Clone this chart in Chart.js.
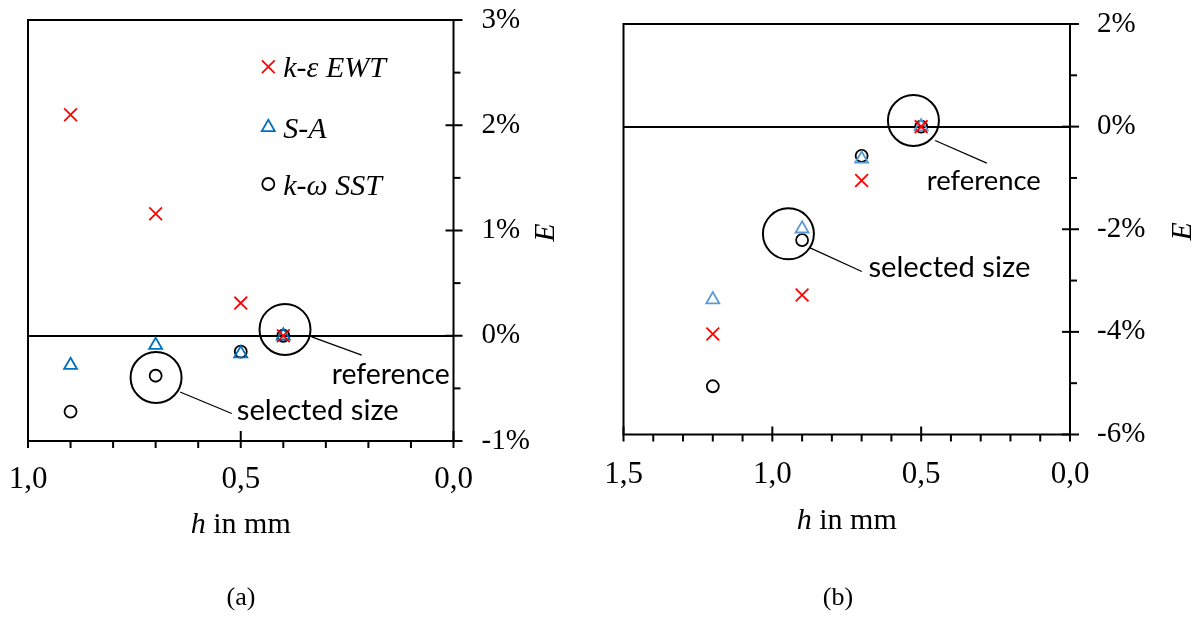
<!DOCTYPE html>
<html>
<head>
<meta charset="utf-8">
<script src="https://cdn.jsdelivr.net/npm/chart.js@4.4.0/dist/chart.umd.min.js"></script>
<style>
  html, body { margin: 0; padding: 0; background: #fff; }
  #wrap { position: relative; width: 1199px; height: 633px; overflow: hidden; }
  canvas { position: absolute; top: 0; }
</style>
</head>
<body>
<div id="wrap">
  <canvas id="chartA" width="600" height="633" style="left:0"></canvas>
  <canvas id="chartB" width="599" height="633" style="left:600px"></canvas>
</div>
<script>
// dados (a)
const hA = [0.9, 0.7, 0.5, 0.4];
const kepsA = [2.10, 1.16, 0.31, 0];
const saA = [-0.28, -0.09, -0.17, 0];
const sstA = [-0.72, -0.38, -0.15, 0];
const yTicksA = [-1, 0, 1, 2, 3];
const xTicksA = [0, 0.5, 1.0];

// dados (b)
const hB = [1.2, 0.9, 0.7, 0.5];
const kepsB = [-4.04, -3.28, -1.05, 0];
const saB = [-3.37, -1.99, -0.63, 0];
const sstB = [-5.06, -2.21, -0.57, 0];
const yTicksB = [-6, -4, -2, 0, 2];
const xTicksB = [0, 0.5, 1.0, 1.5];

const seriesNames = ['k-ε EWT', 'S-A', 'k-ω SST'];

const SERIF = '"Liberation Serif", "Times New Roman", serif';
const SANS = 'Lato, "Open Sans", sans-serif';

function pts(xs, ys) {
  return xs.map((x, i) => ({ x: x, y: ys[i] }));
}

function marker(ctx, style, x, y, r, color) {
  ctx.save();
  ctx.strokeStyle = color;
  ctx.lineWidth = 1.8;
  ctx.beginPath();
  if (style === 'crossRot') {
    const d = r * Math.SQRT1_2;
    ctx.moveTo(x - d, y - d); ctx.lineTo(x + d, y + d);
    ctx.moveTo(x + d, y - d); ctx.lineTo(x - d, y + d);
  } else if (style === 'triangle') {
    for (let k = 0; k < 3; k++) {
      const a = k * 2 * Math.PI / 3;
      const px = x + Math.sin(a) * r, py = y - Math.cos(a) * r;
      if (k === 0) ctx.moveTo(px, py); else ctx.lineTo(px, py);
    }
    ctx.closePath();
  } else {
    ctx.arc(x, y, r, 0, Math.PI * 2);
  }
  ctx.stroke();
  ctx.restore();
}

// texto ajustado a uma largura
function fitFont(ctx, text, family, style, target) {
  ctx.font = style + ' 30px ' + family;
  const w = ctx.measureText(text).width;
  return style + ' ' + (30 * target / w).toFixed(2) + 'px ' + family;
}

// eixos, ticks, moldura, anotações
const decor = {
  id: 'decor',
  afterDraw(chart, args, o) {
    const { ctx, chartArea: a, scales: { x, y } } = chart;
    ctx.save();
    ctx.strokeStyle = '#000';
    ctx.lineWidth = 2;
    ctx.strokeRect(a.left, a.top, a.right - a.left, a.bottom - a.top);

    // ticks do eixo x
    const nx = Math.round((x.max - x.min) / 0.1);
    for (let i = 0; i <= nx; i++) {
      const v = x.min + i * 0.1;
      const px = x.getPixelForValue(v);
      const major = i % 5 === 0;
      ctx.beginPath();
      ctx.moveTo(px, a.bottom - (major ? o.xIn : 0));
      ctx.lineTo(px, a.bottom + 7);
      ctx.stroke();
    }
    // ticks do eixo y
    const ny = Math.round((y.max - y.min) / o.yMinor);
    for (let i = 0; i <= ny; i++) {
      const v = y.min + i * o.yMinor;
      const py = y.getPixelForValue(v);
      const major = i % 2 === 0;
      ctx.beginPath();
      ctx.moveTo(a.right - (major ? 8 : 0), py);
      ctx.lineTo(a.right + (major ? 9 : 7), py);
      ctx.stroke();
    }

    // anotações
    o.notes.forEach(n => {
      const cx = x.getPixelForValue(n.x), cy = y.getPixelForValue(n.y);
      ctx.lineWidth = 2;
      ctx.beginPath();
      ctx.arc(cx, cy, 25.5, 0, Math.PI * 2);
      ctx.stroke();
      ctx.lineWidth = 1.2;
      ctx.beginPath();
      ctx.moveTo(cx + n.from[0], cy + n.from[1]);
      ctx.lineTo(cx + n.to[0], cy + n.to[1]);
      ctx.stroke();
      ctx.fillStyle = '#000';
      ctx.font = fitFont(ctx, n.text, SANS, 'normal', n.w);
      ctx.textAlign = 'left';
      ctx.textBaseline = 'alphabetic';
      ctx.fillText(n.text, cx + n.at[0], cy + n.at[1]);
    });

    // título do eixo x: h in mm
    ctx.fillStyle = '#000';
    ctx.textBaseline = 'alphabetic';
    ctx.textAlign = 'left';
    ctx.font = 'italic 30px ' + SERIF;
    const wh = ctx.measureText('h').width;
    ctx.font = '30px ' + SERIF;
    const wr = ctx.measureText(' in mm').width;
    let tx = (a.left + a.right) / 2 - (wh + wr) / 2;
    const ty = a.bottom + o.titleDy;
    ctx.font = 'italic 30px ' + SERIF;
    ctx.fillText('h', tx, ty);
    ctx.font = '30px ' + SERIF;
    ctx.fillText(' in mm', tx + wh, ty);

    // título do eixo y: E
    ctx.save();
    ctx.translate(o.eX, (a.top + a.bottom) / 2 + 2);
    ctx.rotate(-Math.PI / 2);
    ctx.textAlign = 'center';
    ctx.textBaseline = 'middle';
    ctx.font = 'italic 30px ' + SERIF;
    ctx.fillText('E', 0, 0);
    ctx.restore();

    // (a) / (b)
    ctx.textAlign = 'center';
    ctx.textBaseline = 'middle';
    ctx.font = '26px ' + SERIF;
    ctx.fillText(o.caption, o.capX, 598);

    // legenda
    if (o.legend) {
      const ys = [66.7, 127.3, 184];
      const styles = ['crossRot', 'triangle', 'circle'];
      const cols = ['#FF0000', '#0070C0', '#000000'];
      const rr = [9, 7.5, 6];
      ctx.textAlign = 'left';
      ctx.textBaseline = 'alphabetic';
      ctx.font = 'italic 30px ' + SERIF;
      seriesNames.forEach((s, i) => {
        marker(ctx, styles[i], 268.3, ys[i], rr[i], cols[i]);
        ctx.fillText(s, 283.3, ys[i] + 10.5);
      });
    }
    ctx.restore();
  }
};

function build(id, d) {
  const chart = new Chart(document.getElementById(id), {
    type: 'scatter',
    data: {
      datasets: [
        { label: seriesNames[0], data: pts(d.h, d.keps), pointStyle: 'crossRot', pointRadius: 9,
          borderColor: '#FF0000', backgroundColor: 'rgba(0,0,0,0)', borderWidth: 1.8 },
        { label: seriesNames[1], data: pts(d.h, d.sa), pointStyle: 'triangle', pointRadius: 7.5,
          borderColor: d.saColor, backgroundColor: 'rgba(0,0,0,0)', borderWidth: 1.8 },
        { label: seriesNames[2], data: pts(d.h, d.sst), pointStyle: 'circle', pointRadius: 6,
          borderColor: '#000000', backgroundColor: 'rgba(0,0,0,0)', borderWidth: 1.8 }
      ]
    },
    options: {
      responsive: false,
      animation: false,
      devicePixelRatio: 1,
      layout: { padding: { left: d.area.left, top: d.area.top, right: 0, bottom: 0 } },
      plugins: {
        legend: { display: false },
        tooltip: { enabled: false },
        decor: d.decor
      },
      scales: {
        x: {
          type: 'linear',
          reverse: true,
          min: 0,
          max: d.xMax,
          afterBuildTicks: s => { s.ticks = d.xTicks.map(v => ({ value: v })); },
          afterFit: s => { s.height = d.xH; },
          grid: { display: false, drawTicks: false },
          border: { display: false },
          ticks: {
            color: '#000',
            padding: d.xPad,
            maxRotation: 0,
            font: { family: SERIF, size: 31 },
            callback: v => Number(v).toFixed(1).replace('.', ',')
          }
        },
        y: {
          type: 'linear',
          position: 'right',
          min: d.yTicks[0],
          max: d.yTicks[d.yTicks.length - 1],
          afterBuildTicks: s => { s.ticks = d.yTicks.map(v => ({ value: v })); },
          afterFit: s => { s.width = d.yW; },
          grid: {
            drawTicks: true,
            tickLength: d.yPad,
            tickColor: 'rgba(0,0,0,0)',
            lineWidth: 2,
            color: c => (c.tick && c.tick.value === 0 ? '#000' : 'rgba(0,0,0,0)')
          },
          border: { display: false },
          ticks: {
            color: '#000',
            padding: 0,
            font: { family: SERIF, size: 29 },
            callback: v => v + '%'
          }
        }
      }
    },
    plugins: [decor]
  });

  // acerta a área do gráfico na posição pedida
  const t = d.area;
  for (let k = 0; k < 4; k++) {
    const a = chart.chartArea, p = chart.options.layout.padding;
    p.left += t.left - a.left;
    p.top += t.top - a.top;
    p.right += a.right - t.right;
    p.bottom += a.bottom - t.bottom;
    chart.update();
  }
  return chart;
}

build('chartA', {
  h: hA, keps: kepsA, sa: saA, sst: sstA, saColor: '#0070C0',
  xMax: 1.0, xTicks: xTicksA, yTicks: yTicksA,
  area: { left: 28, top: 20, right: 453.5, bottom: 441 },
  xH: 150, yW: 120, xPad: 20, yPad: 28,
  decor: {
    xIn: 10, yMinor: 0.5, titleDy: 92, eX: 546, caption: '(a)', capX: 241, legend: true,
    notes: [
      { x: 0.396, y: 0.06, text: 'reference', w: 118, from: [26.7, 7.4], to: [76.7, 25.7], at: [46.7, 55] },
      { x: 0.699, y: -0.397, text: 'selected size', w: 162, from: [24, 14.4], to: [75.7, 36], at: [80.7, 42.7] }
    ]
  }
});

build('chartB', {
  h: hB, keps: kepsB, sa: saB, sst: sstB, saColor: '#5B9BD5',
  xMax: 1.5, xTicks: xTicksB, yTicks: yTicksB,
  area: { left: 23.5, top: 24, right: 470, bottom: 434.5 },
  xH: 150, yW: 110, xPad: 21.5, yPad: 27,
  decor: {
    xIn: 8, yMinor: 1, titleDy: 94, eX: 583, caption: '(b)', capX: 238, legend: false,
    notes: [
      { x: 0.526, y: 0.12, text: 'reference', w: 114, from: [21.7, 20], to: [73.4, 42.7], at: [13.4, 69.3] },
      { x: 0.946, y: -2.09, text: 'selected size', w: 162, from: [21.7, 14], to: [73.4, 37.7], at: [80, 43.4] }
    ]
  }
});
</script>
</body>
</html>
